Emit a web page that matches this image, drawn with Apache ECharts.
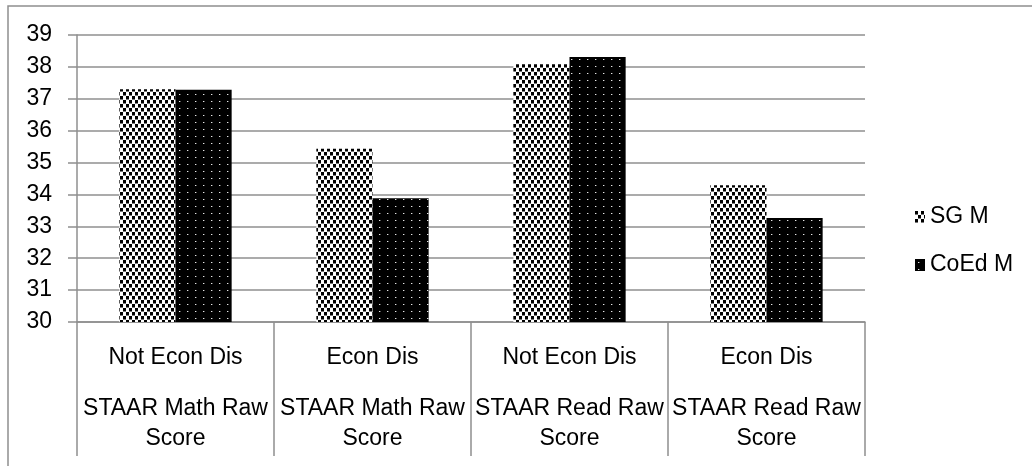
<!DOCTYPE html>
<html>
<head>
<meta charset="utf-8">
<script src="https://cdn.jsdelivr.net/npm/echarts@6/dist/echarts.min.js"></script>
<style>
html,body{margin:0;padding:0;background:#fff;}
#chart{width:1032px;height:466px;}
</style>
</head>
<body>
<div id="chart"></div>
<script>
// ---- data ----
const subCategories = ['Not Econ Dis', 'Econ Dis', 'Not Econ Dis', 'Econ Dis'];
const groupLabels = ['STAAR Math Raw\nScore', 'STAAR Math Raw\nScore', 'STAAR Read Raw\nScore', 'STAAR Read Raw\nScore'];
const seriesNames = ['SG M', 'CoEd M'];
const sgValues = [37.30, 35.43, 38.08, 34.29];
const coedValues = [37.28, 33.88, 38.31, 33.26];
const yTicks = [30, 31, 32, 33, 34, 35, 36, 37, 38, 39];

// ---- patterns ----
function makeTile(w, h, bg, draw) {
  const c = document.createElement('canvas');
  c.width = w; c.height = h;
  const ctx = c.getContext('2d');
  ctx.fillStyle = bg; ctx.fillRect(0, 0, w, h);
  draw(ctx);
  return c;
}
const sgTile = makeTile(6, 8, '#ffffff', ctx => {
  ctx.fillStyle = '#000';
  ctx.fillRect(0, 0, 3, 3);
  ctx.fillRect(3, 4, 3, 3);
  ctx.fillStyle = '#777';
  ctx.fillRect(0, 3, 3, 1);
  ctx.fillRect(3, 7, 3, 1);
});
const coedTile = makeTile(8, 7, '#000000', ctx => {
  ctx.fillStyle = '#e6e6e6';
  ctx.fillRect(3, 3, 1, 1);
  ctx.fillStyle = '#555';
  ctx.fillRect(4, 3, 1, 1);
});
const sgColor = { image: sgTile, repeat: 'repeat' };
const coedColor = { image: coedTile, repeat: 'repeat' };

const FONT = '"Liberation Sans", Arial, sans-serif';
const GRAY = '#8f8f8f';

const xLabels = subCategories.map((s, i) => s + '\n' + groupLabels[i]);

const chart = echarts.init(document.getElementById('chart'), null, { renderer: 'canvas' });
chart.setOption({
  animation: false,
  backgroundColor: '#ffffff',
  textStyle: { fontFamily: FONT },
  graphic: [{
    type: 'rect',
    shape: { x: 8, y: 6, width: 1100, height: 600 },
    style: { fill: 'none', stroke: GRAY, lineWidth: 1.5 },
    silent: true
  }],
  grid: { left: 77, right: 167, top: 35, bottom: 144, containLabel: false },
  legend: {
    orient: 'vertical',
    left: 910,
    top: 200,
    itemWidth: 10,
    itemHeight: 12,
    itemGap: 24,
    icon: 'rect',
    textStyle: { fontFamily: FONT, fontSize: 23, color: '#000', lineHeight: 24 },
    data: seriesNames
  },
  xAxis: {
    type: 'category',
    data: xLabels,
    boundaryGap: true,
    axisLine: { show: true, lineStyle: { color: GRAY, width: 1.5 } },
    axisTick: { show: true, interval: 0, length: 134, lineStyle: { color: GRAY, width: 1.5 } },
    splitLine: { show: false },
    axisLabel: {
      interval: 0,
      margin: 0,
      color: '#000',
      fontFamily: FONT,
      fontSize: 23,
      formatter: function (v, i) {
        const g = groupLabels[i].split('\n');
        return '{a|' + subCategories[i] + '}\n' + g.map(t => '{b|' + t + '}').join('\n');
      },
      rich: {
        a: { fontFamily: FONT, fontSize: 23, color: '#000', lineHeight: 72 },
        b: { fontFamily: FONT, fontSize: 23, color: '#000', lineHeight: 30 }
      }
    }
  },
  yAxis: {
    type: 'value',
    min: yTicks[0],
    max: yTicks[yTicks.length - 1],
    interval: 1,
    axisLine: { show: true, lineStyle: { color: GRAY, width: 1.5 } },
    axisTick: { show: true, length: 9, lineStyle: { color: GRAY, width: 1.5 } },
    splitLine: { show: true, lineStyle: { color: GRAY, width: 1.5 } },
    axisLabel: { margin: 25, color: '#000', fontFamily: FONT, fontSize: 23 }
  },
  series: [
    {
      name: seriesNames[0], type: 'bar', data: sgValues,
      barGap: '0%', barCategoryGap: '43%',
      itemStyle: { color: sgColor }
    },
    {
      name: seriesNames[1], type: 'bar', data: coedValues,
      barGap: '0%', barCategoryGap: '43%',
      itemStyle: { color: coedColor }
    }
  ]
});
</script>
</body>
</html>
